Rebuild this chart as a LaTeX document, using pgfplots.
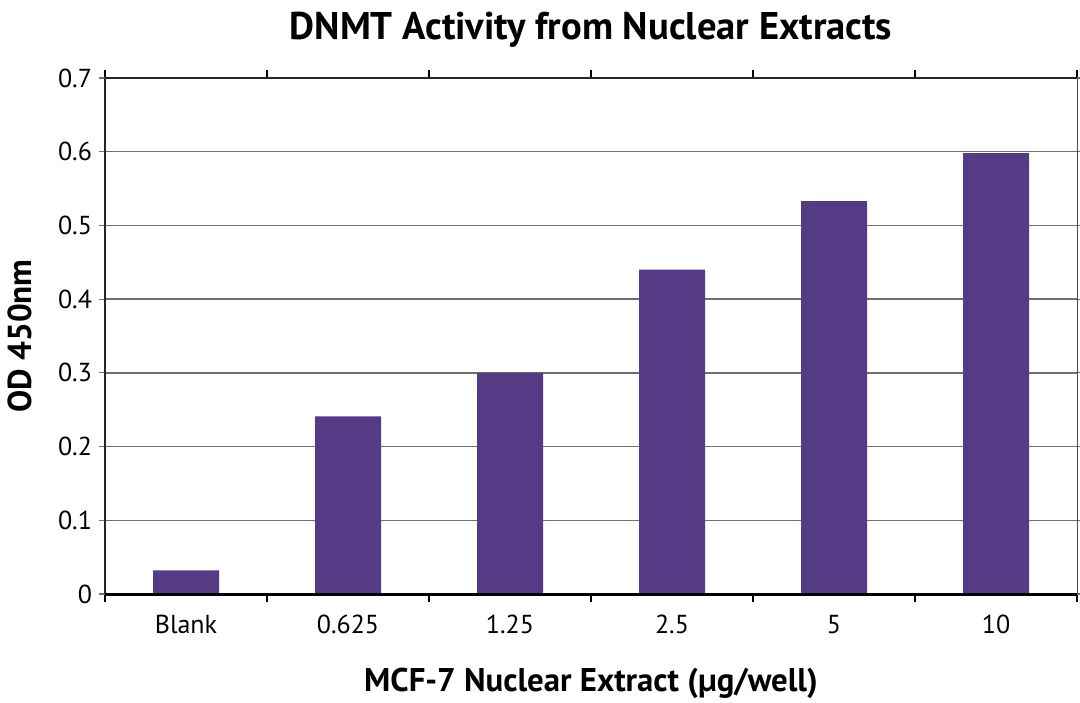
\documentclass[border=0pt]{standalone}
\usepackage{fontspec}
\setmainfont{PT Sans}
\usepackage{pgfplots}
\pgfplotsset{compat=1.18}
\definecolor{barpurple}{HTML}{553A85}
\definecolor{gridgray}{HTML}{707070}
\begin{document}
\begin{tikzpicture}
\useasboundingbox (0,0) rectangle (540pt,351pt);
\begin{axis}[
  at={(52.5pt,54pt)}, anchor=south west,
  scale only axis, width=486pt, height=258pt,
  xmin=-0.5, xmax=5.5, ymin=0, ymax=0.7,
  xtick={0,1,2,3,4,5},
  xticklabels={Blank,0.625,1.25,2.5,5,10},
  minor xtick={-0.5,0.5,1.5,2.5,3.5,4.5,5.5},
  ytick={0,0.1,0.2,0.3,0.4,0.5,0.6,0.7},
  yticklabels={0,0.1,0.2,0.3,0.4,0.5,0.6,0.7},
  major x tick style={draw=none},
  minor x tick style={draw=black, line width=0.6pt},
  minor tick length=4pt,
  ytick style={draw=gridgray, line width=0.6pt},
  tick align=outside, major tick length=3pt,
  ymajorgrids, grid style={draw=gridgray, line width=0.7pt},
  axis line style={draw=none},
  tick label style={font=\fontsize{13}{15}\selectfont},
  xticklabel style={yshift=-4pt},
  title={\bfseries DNMT Activity from Nuclear Extracts},
  title style={font=\fontsize{19.3}{22}\selectfont, yshift=6pt},
  xlabel={\bfseries MCF-7 Nuclear Extract (µg/well)},
  ylabel={\bfseries OD 450nm},
  xlabel style={font=\fontsize{16.4}{19}\selectfont, yshift=-10pt},
  ylabel style={font=\fontsize{16.6}{19}\selectfont, yshift=6pt},
  clip=false,
]
\addplot[ybar, bar width=33pt, fill=barpurple, draw=none] coordinates {
  (0,0.032) (1,0.241) (2,0.300) (3,0.440) (4,0.533) (5,0.598)
};
\draw[line width=1pt, black!85] (axis cs:-0.5,0) -- (axis cs:-0.5,0.7);
\draw[line width=1.2pt, black!85] (axis cs:-0.5,0.7) -- (axis cs:5.5,0.7);
\draw[line width=0.5pt, black!70] (axis cs:5.5,0) -- (axis cs:5.5,0.7);
\draw[line width=1.5pt, black] (axis cs:-0.5,0) -- (axis cs:5.5,0);
\end{axis}
\end{tikzpicture}
\end{document}
